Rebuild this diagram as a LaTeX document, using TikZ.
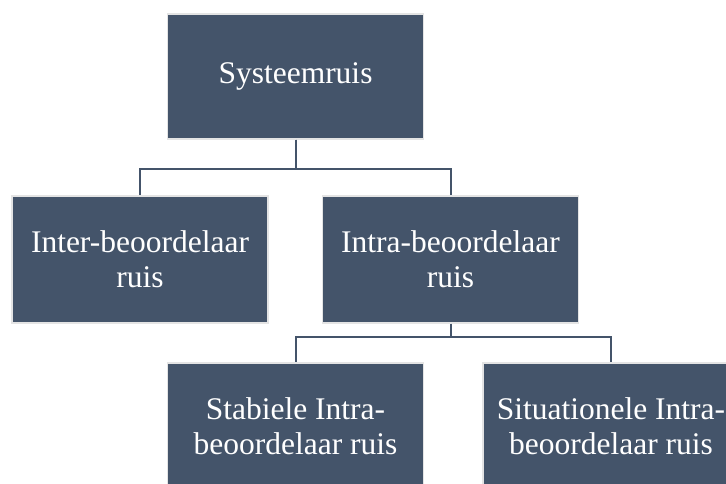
\documentclass[tikz,border=0pt]{standalone}
\usepackage{fontspec}
\setmainfont{Liberation Serif}
\usetikzlibrary{positioning}

\definecolor{slate}{HTML}{44546A}
\definecolor{rim}{HTML}{E4E4E4}

\begin{document}
\begin{tikzpicture}[
    x=1pt, y=-1pt,
    block/.style={rectangle, draw=rim, line width=1.5pt, fill=slate, text=white, align=center, inner sep=0pt, minimum width=256pt, minimum height=127pt, font=\fontsize{31.5}{35}\selectfont},
    conn/.style={draw=slate, line width=2pt}
]
    \useasboundingbox (0,0) rectangle (726,484);
    \clip (0,0) rectangle (726,484);

    % Top level
    \node[block, minimum height=125pt] (sys) at (295.5,76.5) {Systeemruis};

    % Second level
    \node[block] (inter) at (140,259.5) {Inter-beoordelaar\\ruis};
    \node[block] (intra) at (450.5,259.5) {Intra-beoordelaar\\ruis};

    % Third level
    \node[block] (stab) at (295.5,426.5) {Stabiele Intra-\\beoordelaar ruis};
    \node[block] (situ) at (611,426.5) {Situationele Intra-\\beoordelaar ruis};

    \draw[conn] (sys.south) -- ++(0,29) -| (inter.north);
    \draw[conn] (sys.south) -- ++(0,29) -| (intra.north);
    \draw[conn] (intra.south) -- ++(0,13) -| (stab.north);
    \draw[conn] (intra.south) -- ++(0,13) -| (situ.north);

\end{tikzpicture}
\end{document}
